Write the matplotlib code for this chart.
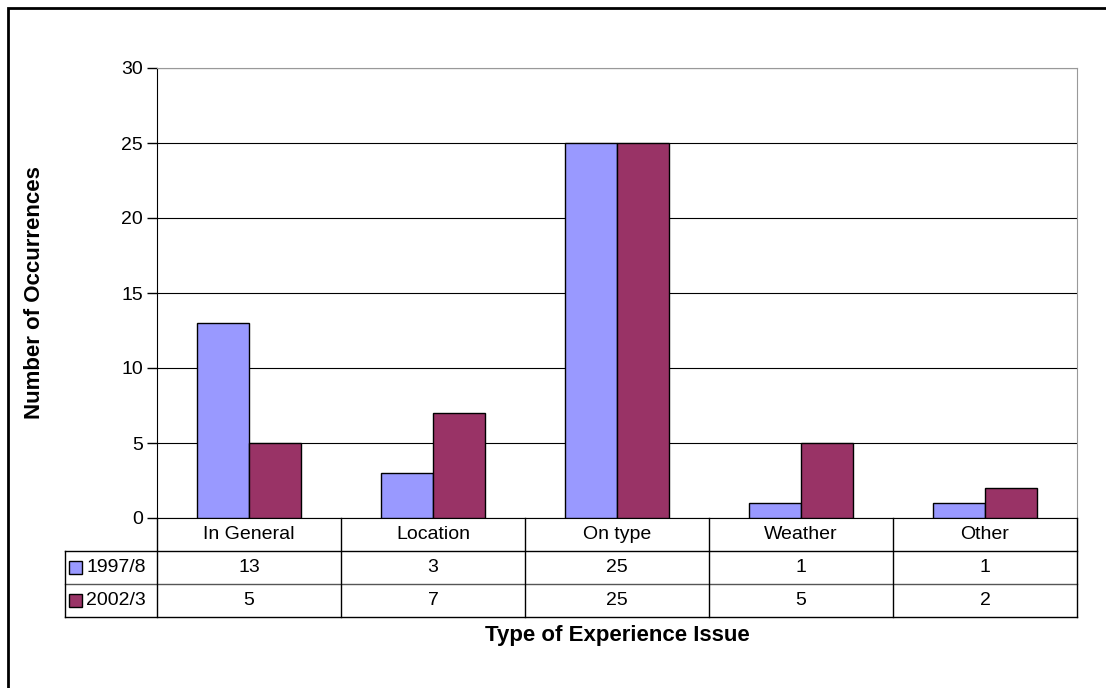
import matplotlib.pyplot as plt
from matplotlib.patches import Rectangle

plt.rcParams['font.family'] = ['Liberation Sans', 'DejaVu Sans']

categories = ['In General', 'Location', 'On type', 'Weather', 'Other']
series_names = ['1997/8', '2002/3']
values_1997 = [13, 3, 25, 1, 1]
values_2002 = [5, 7, 25, 5, 2]
colors = ['#9999FF', '#993366']
yticks = [0, 5, 10, 15, 20, 25, 30]

W, H = 1106, 688
fs = 14
fig = plt.figure(figsize=(W / 100, H / 100), dpi=100)

# outer chart border (right and bottom edges fall outside the picture)
fig.patches.append(Rectangle((8 / W, -0.1), 1.2, 1 - 8 / H + 0.1, transform=fig.transFigure,
                             fill=False, edgecolor='black', linewidth=2))

# plot area
ax = fig.add_axes([157 / W, (H - 518) / H, 920 / W, 450 / H])
x = list(range(len(categories)))
bw = 52 / 184
ax.bar([i - bw / 2 for i in x], values_1997, bw, color=colors[0], edgecolor='black', linewidth=1, zorder=3)
ax.bar([i + bw / 2 for i in x], values_2002, bw, color=colors[1], edgecolor='black', linewidth=1, zorder=3)
ax.set_xlim(-0.5, len(categories) - 0.5)
ax.set_ylim(0, 30)
ax.set_yticks(yticks)
ax.yaxis.grid(True, color='black', linewidth=0.8, zorder=0)
ax.set_xticks([])
ax.tick_params(axis='y', labelsize=fs, length=7, width=1, direction='out', pad=3)
for s in ['top', 'right']:
    ax.spines[s].set_color('#999999')
ax.spines['left'].set_color('black')
ax.spines['bottom'].set_color('black')
ax.set_ylabel('Number of Occurrences', fontsize=16, fontweight='bold')
ax.yaxis.set_label_coords((45 - 157) / 920, 0.5)

# data table under the plot
tab = fig.add_axes([65 / W, (H - 617) / H, 1012 / W, 99 / H])
tab.set_xlim(-1.0, len(categories) - 0.5)
tab.set_ylim(3, 0)
tab.axis('off')
lw = 1
right = len(categories) - 0.5
for r in [1, 2, 3]:
    tab.plot([-1.0, right], [r, r], color='black' if r in (1, 3) else '#555555', lw=lw, clip_on=False)
for c in range(len(categories) + 1):
    tab.plot([c - 0.5, c - 0.5], [0, 3], color='black', lw=lw, clip_on=False)
tab.plot([-1.0, -1.0], [1, 3], color='black', lw=lw, clip_on=False)

for i, cat in enumerate(categories):
    tab.text(i, 0.5, cat, ha='center', va='center', fontsize=fs)
    tab.text(i, 1.5, str(values_1997[i]), ha='center', va='center', fontsize=fs)
    tab.text(i, 2.5, str(values_2002[i]), ha='center', va='center', fontsize=fs)

sw = 13 / 184
for r, (name, col) in enumerate(zip(series_names, colors)):
    tab.add_patch(Rectangle((-1.0 + 4 / 184, r + 1.5 - 0.2), sw, 0.4, facecolor=col,
                            edgecolor='black', lw=1, clip_on=False))
    tab.text(-1.0 + 21 / 184, r + 1.5, name, ha='left', va='center', fontsize=fs)

fig.text(617 / W, 1 - 635 / H, 'Type of Experience Issue', ha='center', va='center',
         fontsize=16, fontweight='bold')

fig.savefig('out.png', dpi=100)
